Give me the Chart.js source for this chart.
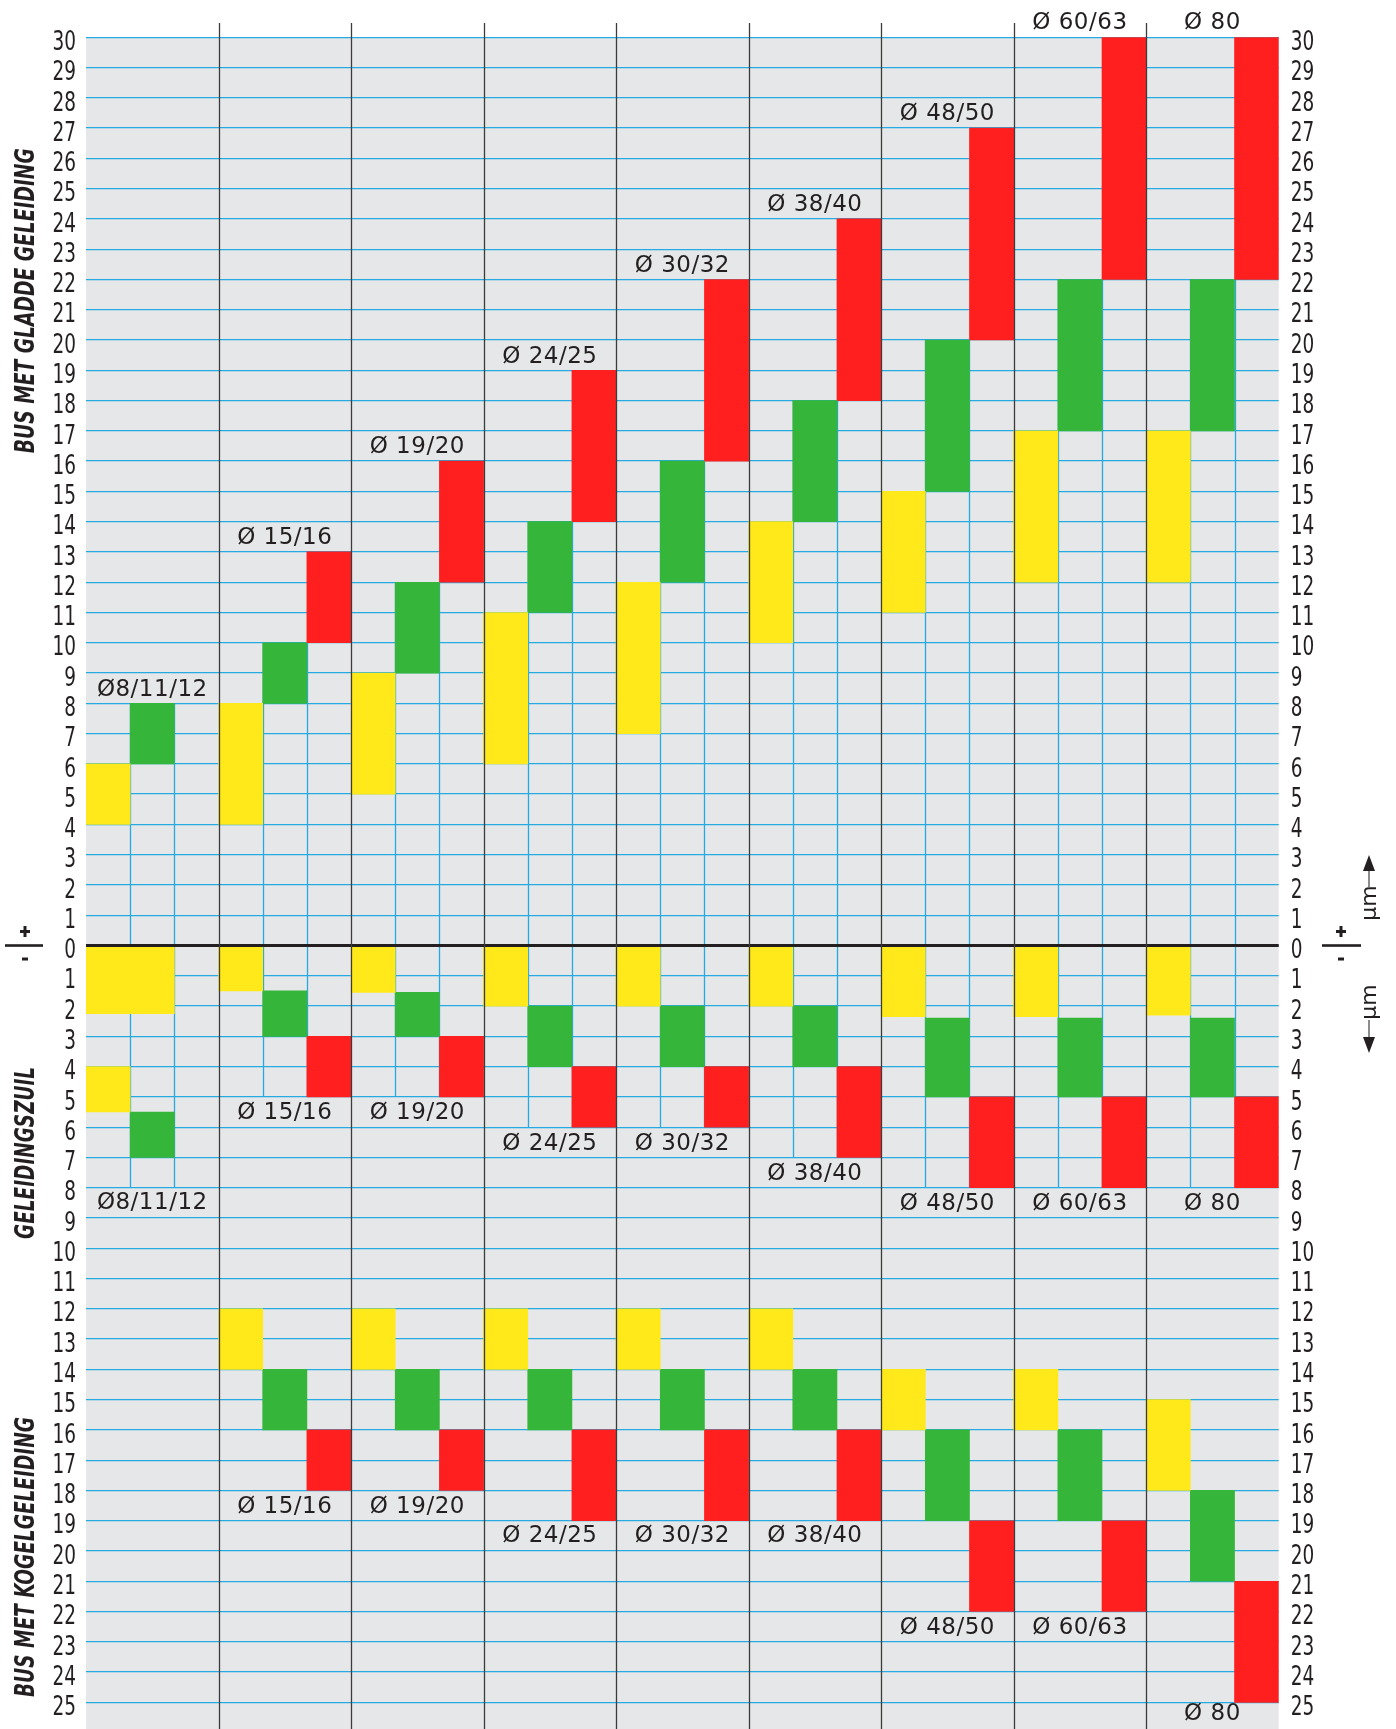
<!DOCTYPE html>
<html>
<head>
<meta charset="utf-8">
<title>Toleranties bus / geleidingszuil</title>
<script src="https://cdn.jsdelivr.net/npm/chart.js@4/dist/chart.umd.min.js"></script>
<style>
  html, body { margin: 0; padding: 0; background: #fff; }
  #wrap { width: 1396px; height: 1729px; }
</style>
</head>
<body>
<div id="wrap"><canvas id="c" width="1396" height="1729"></canvas></div>
<script>
// diameters, each with three columns: geel / groen / rood
const groups = ['Ø8/11/12', 'Ø 15/16', 'Ø 19/20', 'Ø 24/25', 'Ø 30/32', 'Ø 38/40', 'Ø 48/50', 'Ø 60/63', 'Ø 80'];
const slots = ['geel', 'groen', 'rood'];

// axis ticks (µm), shown as absolute values
const yTicks = [30, 29, 28, 27, 26, 25, 24, 23, 22, 21, 20, 19, 18, 17, 16, 15, 14, 13, 12, 11, 10,
  9, 8, 7, 6, 5, 4, 3, 2, 1, 0, -1, -2, -3, -4, -5, -6, -7, -8, -9, -10, -11, -12, -13, -14,
  -15, -16, -17, -18, -19, -20, -21, -22, -23, -24, -25];

// bus met gladde geleiding  [van, tot]
const gladYellow = [[4, 6], [4, 8], [5, 9], [6, 11], [7, 12], [10, 14], [11, 15], [12, 17], [12, 17]];
const gladGreen = [[6, 8], [8, 10], [9, 12], [11, 14], [12, 16], [14, 18], [15, 20], [17, 22], [17, 22]];
const gladRed = [null, [10, 13], [12, 16], [14, 19], [16, 22], [18, 24], [20, 27], [22, 30], [22, 30]];

// geleidingszuil
const zuilYellow = [[-2.25, 0], [-1.5, 0], [-1.55, 0], [-2, 0], [-2, 0], [-2, 0], [-2.35, 0], [-2.35, 0], [-2.3, 0]];
const zuilGreen = [[-7, -5.5], [-3, -1.5], [-3, -1.55], [-4, -2], [-4, -2], [-4, -2], [-5, -2.4], [-5, -2.4], [-5, -2.4]];
const zuilRed = [null, [-5, -3], [-5, -3], [-6, -4], [-6, -4], [-7, -4], [-8, -5], [-8, -5], [-8, -5]];
// extra bars for Ø8/11/12 (first column lower part, second column upper part)
const zuilYellowLow = [[-5.5, -4], null, null, null, null, null, null, null, null];
const zuilYellowMid = [[-2.25, 0], null, null, null, null, null, null, null, null];

// bus met kogelgeleiding
const kogelYellow = [null, [-14, -12], [-14, -12], [-14, -12], [-14, -12], [-14, -12], [-16, -14], [-16, -14], [-18, -15]];
const kogelGreen = [null, [-16, -14], [-16, -14], [-16, -14], [-16, -14], [-16, -14], [-19, -16], [-19, -16], [-21, -18]];
const kogelRed = [null, [-18, -16], [-18, -16], [-19, -16], [-19, -16], [-19, -16], [-22, -19], [-22, -19], [-25, -21]];

// where the diameter captions sit (µm)
const labelTop = [8.53, 13.55, 16.55, 19.55, 22.55, 24.55, 27.55, 30.57, 30.57];
const labelMid = [-8.42, -5.45, -5.45, -6.45, -6.45, -7.45, -8.45, -8.45, -8.45];
const labelBot = [null, -18.45, -18.45, -19.4, -19.4, -19.4, -22.45, -22.45, -25.3];

const YELLOW = '#ffe91b';
const GREEN = '#35b539';
const RED = '#ff1f1f';
const GRID = '#27aae1';
const INK = '#231f20';
const BG = '#e6e7e8';

const subLabels = [];
groups.forEach(g => slots.forEach(s => subLabels.push(g + ' ' + s)));

function place(arr, k) {
  const out = new Array(subLabels.length).fill(null);
  arr.forEach((v, g) => { if (v) out[g * 3 + k] = v; });
  return out;
}

const datasets = [
  { label: 'glad geel', data: place(gladYellow, 0), backgroundColor: YELLOW },
  { label: 'glad groen', data: place(gladGreen, 1), backgroundColor: GREEN },
  { label: 'glad rood', data: place(gladRed, 2), backgroundColor: RED },
  { label: 'zuil geel', data: place(zuilYellow, 0), backgroundColor: YELLOW },
  { label: 'zuil geel 2', data: place(zuilYellowMid, 1), backgroundColor: YELLOW },
  { label: 'zuil geel 3', data: place(zuilYellowLow, 0), backgroundColor: YELLOW },
  { label: 'zuil groen', data: place(zuilGreen, 1), backgroundColor: GREEN },
  { label: 'zuil rood', data: place(zuilRed, 2), backgroundColor: RED },
  { label: 'kogel geel', data: place(kogelYellow, 0), backgroundColor: YELLOW },
  { label: 'kogel groen', data: place(kogelGreen, 1), backgroundColor: GREEN },
  { label: 'kogel rood', data: place(kogelRed, 2), backgroundColor: RED }
];

const NARROW = '"DejaVu Sans Condensed", "DejaVu Sans", sans-serif';

// grey field, column lines, group lines, captions, narrow tick labels and side texts
const decor = {
  id: 'decor',
  beforeDraw(chart) {
    const { ctx, chartArea: a } = chart;
    ctx.save();
    ctx.fillStyle = BG;
    ctx.fillRect(a.left, a.top, a.right - a.left, a.bottom - a.top);
    ctx.restore();
  },
  beforeDatasetsDraw(chart) {
    const { ctx, scales: { x, y } } = chart;
    const edge = i => (x.getPixelForValue(i - 1) + x.getPixelForValue(i)) / 2;
    ctx.save();
    ctx.strokeStyle = GRID;
    ctx.lineWidth = 1.3;
    groups.forEach((g, gi) => {
      const y1 = y.getPixelForValue(gladGreen[gi][1]);
      const y2 = y.getPixelForValue(Math.ceil(labelMid[gi]));
      for (let k = 1; k < 3; k++) {
        const xp = Math.round(edge(gi * 3 + k)) + 0.5;
        ctx.beginPath();
        ctx.moveTo(xp, y1);
        ctx.lineTo(xp, y2);
        ctx.stroke();
      }
    });
    ctx.restore();
  },
  afterDatasetsDraw(chart) {
    const { ctx, chartArea: a, scales: { x, y } } = chart;
    const edge = i => (x.getPixelForValue(i - 1) + x.getPixelForValue(i)) / 2;
    const y0 = y.getPixelForValue(0);
    ctx.save();

    // zero line
    ctx.strokeStyle = INK;
    ctx.lineWidth = 2.8;
    ctx.beginPath();
    ctx.moveTo(a.left, y0);
    ctx.lineTo(a.right, y0);
    ctx.stroke();

    // group separators
    ctx.strokeStyle = '#3c3c3c';
    ctx.lineWidth = 1.3;
    for (let g = 1; g < groups.length; g++) {
      const xp = Math.round(edge(g * 3)) + 0.5;
      ctx.beginPath();
      ctx.moveTo(xp, 23);
      ctx.lineTo(xp, chart.height);
      ctx.stroke();
    }

    // tick labels, condensed like the original
    ctx.fillStyle = INK;
    ctx.font = '27px ' + NARROW;
    ctx.textBaseline = 'alphabetic';
    yTicks.forEach(v => {
      const py = y.getPixelForValue(v) + 12.7;
      const t = String(Math.abs(v));
      ctx.save();
      ctx.translate(a.left - 10, py);
      ctx.scale(0.76, 1);
      ctx.textAlign = 'right';
      ctx.fillText(t, 0, 0);
      ctx.restore();
      ctx.save();
      ctx.translate(a.right + 12, py);
      ctx.scale(0.76, 1);
      ctx.textAlign = 'left';
      ctx.fillText(t, 0, 0);
      ctx.restore();
    });

    // diameter captions
    ctx.font = '23px "DejaVu Sans", sans-serif';
    ctx.textAlign = 'center';
    ctx.textBaseline = 'middle';
    ctx.letterSpacing = '0.5px';
    groups.forEach((g, gi) => {
      const cx = x.getPixelForValue(gi * 3 + 1);
      [labelTop, labelMid, labelBot].forEach(arr => {
        if (arr[gi] !== null) ctx.fillText(g, cx, y.getPixelForValue(arr[gi]) + 3);
      });
    });
    ctx.letterSpacing = '0px';

    // side titles
    const titles = [
      ['BUS MET GLADDE GELEIDING', 21.3, 305],
      ['GELEIDINGSZUIL', -6.85, 172],
      ['BUS MET KOGELGELEIDING', -20.2, 280]
    ];
    ctx.font = 'italic bold 27px ' + NARROW;
    titles.forEach(([t, v, len]) => {
      const w = ctx.measureText(t).width;
      ctx.save();
      ctx.translate(27, y.getPixelForValue(v));
      ctx.rotate(-Math.PI / 2);
      ctx.scale(len / w, 1);
      ctx.fillText(t, 0, 0);
      ctx.restore();
    });

    // +/- markers left and right
    const pm = (x1, x2, cx) => {
      ctx.fillStyle = INK;
      ctx.fillRect(x1, y0 - 1.3, x2 - x1, 2.6);
      ctx.fillRect(cx - 5, y0 - 15.5, 10, 3);
      ctx.fillRect(cx - 1.5, y0 - 19.5, 3, 11);
      ctx.fillRect(cx - 3, y0 + 12, 6, 3);
    };
    pm(5, 43, 25);
    pm(1322, 1361, 1341);

    // µm arrows
    const um = (ty, lineA, lineB, tip, base) => {
      ctx.save();
      ctx.fillStyle = INK;
      ctx.font = '22px "DejaVu Sans", sans-serif';
      ctx.translate(1370, ty);
      ctx.rotate(-Math.PI / 2);
      ctx.fillText('µm', 0, 0);
      ctx.restore();
      ctx.strokeStyle = '#666';
      ctx.lineWidth = 1.5;
      ctx.beginPath();
      ctx.moveTo(1369, lineA);
      ctx.lineTo(1369, lineB);
      ctx.stroke();
      ctx.beginPath();
      ctx.moveTo(1369, tip);
      ctx.lineTo(1363, base);
      ctx.lineTo(1375, base);
      ctx.closePath();
      ctx.fill();
    };
    um(903, 888, 868, 855, 871);
    um(1002, 1020, 1040, 1053, 1037);

    ctx.restore();
  }
};

new Chart(document.getElementById('c'), {
  type: 'bar',
  data: { labels: subLabels, datasets },
  options: {
    responsive: false,
    animation: false,
    layout: { padding: { top: 37.3, bottom: 0, left: 0, right: 0 } },
    plugins: { legend: { display: false }, tooltip: { enabled: false } },
    datasets: { bar: { barPercentage: 1, categoryPercentage: 1, grouped: false, borderWidth: 0 } },
    scales: {
      x: { type: 'category', display: false },
      y: {
        position: 'left',
        min: -25.88,
        max: 30,
        afterBuildTicks: s => { s.ticks = yTicks.map(v => ({ value: v })); },
        afterFit: s => { s.width = 86; s.paddingTop = 0; s.paddingBottom = 0; },
        border: { display: false },
        grid: { color: GRID, lineWidth: 1.3, drawTicks: false },
        ticks: { display: false, autoSkip: false }
      },
      y2: {
        position: 'right',
        min: -25.88,
        max: 30,
        afterBuildTicks: s => { s.ticks = yTicks.map(v => ({ value: v })); },
        afterFit: s => { s.width = 117.3; s.paddingTop = 0; s.paddingBottom = 0; },
        border: { display: false },
        grid: { display: false, drawTicks: false },
        ticks: { display: false, autoSkip: false }
      }
    }
  },
  plugins: [decor]
});
</script>
</body>
</html>
